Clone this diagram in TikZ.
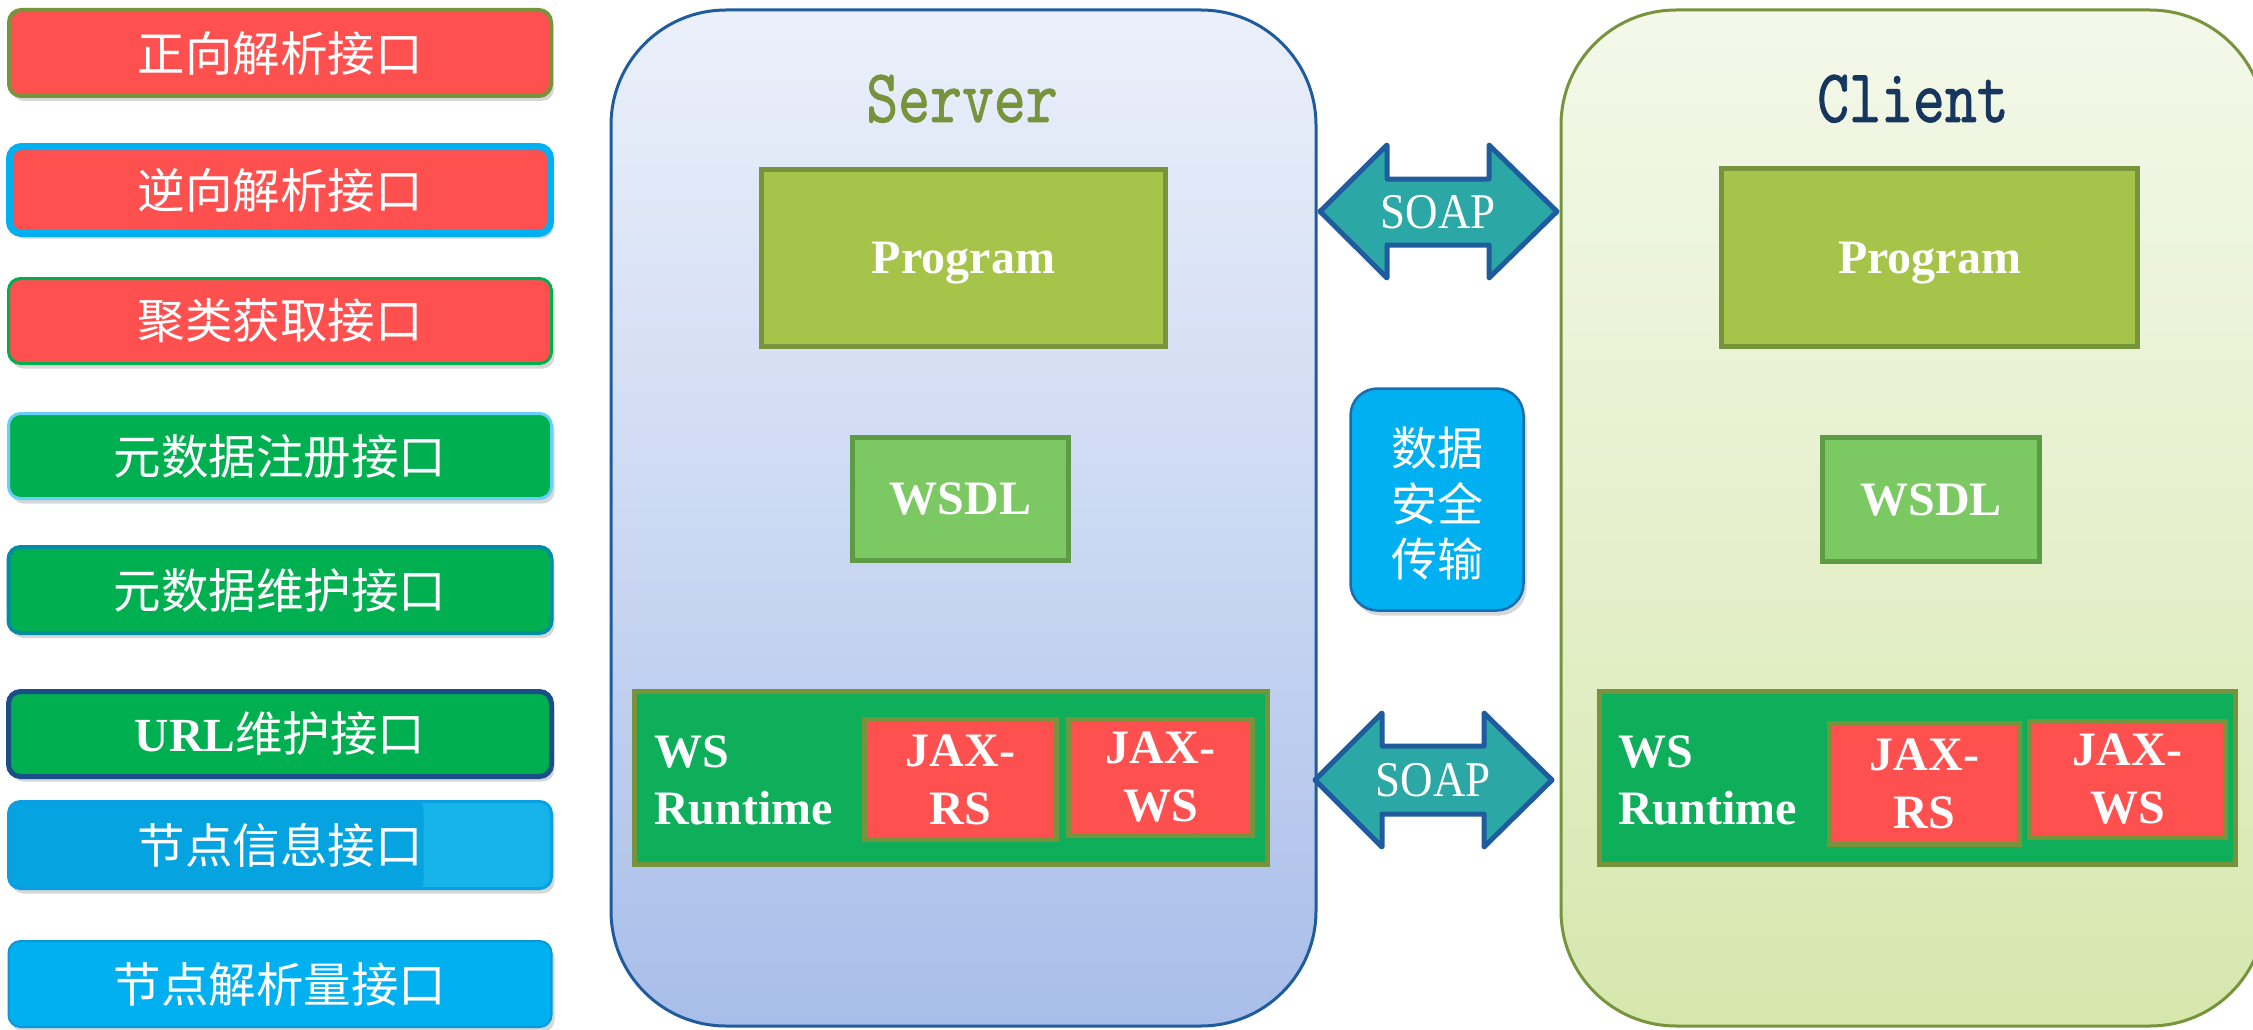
\documentclass[tikz,border=0pt]{standalone}
\usepackage{fontspec}
\setmainfont{Liberation Serif}
\newfontfamily\cjk{Noto Sans CJK SC}
\newfontfamily\titlefont[FakeStretch=0.8,FakeBold=1]{lmmono10-regular.otf}
\newfontfamily\soapfont[FakeStretch=0.9]{Liberation Serif}
\usetikzlibrary{shadows}
\definecolor{cred}{HTML}{FF5050}
\definecolor{cgreen}{HTML}{00B050}
\definecolor{cblue}{HTML}{00B0F0}
\definecolor{olive}{HTML}{77933C}
\definecolor{navy}{HTML}{1F5C9E}
\definecolor{progfill}{HTML}{A6C34A}
\definecolor{wsdlfill}{HTML}{7CC963}
\definecolor{wsdlline}{HTML}{5E9B45}
\definecolor{wsrfill}{HTML}{0FAE5B}
\definecolor{soapfill}{HTML}{2BA8A5}
\definecolor{clienttxt}{HTML}{17365D}
\definecolor{srvtop}{HTML}{EBF0FA}
\definecolor{srvmid}{HTML}{CCD9F3}
\definecolor{srvbot}{HTML}{A8BDE9}
\definecolor{clitop}{HTML}{F4F8EA}
\definecolor{climid}{HTML}{E6F0CD}
\definecolor{clibot}{HTML}{D6E7AD}
\definecolor{nodeinfo}{HTML}{16B3E9}
\definecolor{nodeinfodark}{HTML}{05A3DF}
\begin{document}
\begin{tikzpicture}[x=1pt,y=-1pt,
  lbox/.style={rounded corners=12pt, minimum width=543pt, inner sep=0pt,
    text=white, font=\cjk\fontsize{47.5}{50}\selectfont,
    drop shadow={shadow xshift=3pt, shadow yshift=-5pt, opacity=0.22, fill=black!70}},
  panel/.style={rounded corners=115pt, line width=3pt},
  title/.style={anchor=base, inner sep=0pt, font=\titlefont\fontsize{76}{80}\selectfont},
  sbox/.style={inner sep=0pt, text=white, line width=5pt, align=center,
    font=\bfseries\fontsize{48}{58}\selectfont},
  progbox/.style={sbox, fill=progfill, draw=olive, text depth=0pt},
  wsdlbox/.style={sbox, fill=wsdlfill, draw=wsdlline},
  wsrbox/.style={sbox, fill=wsrfill, draw=olive},
  jaxbox/.style={sbox, fill=cred, draw=olive},
  wsrlabel/.style={anchor=west, inner sep=0pt, text=white, align=left,
    font=\bfseries\fontsize{48}{57}\selectfont},
  soaparrow/.style={fill=soapfill, draw=navy, line width=5pt, line join=round},
  soaplabel/.style={inner sep=0pt, text=white, font=\soapfont\fontsize{50}{52}\selectfont},
  securebox/.style={rounded corners=27pt, fill=cblue, draw=navy!80!cblue, line width=2.5pt,
    inner sep=0pt, text=white, font=\cjk\fontsize{46}{55.5}\selectfont,
    drop shadow={shadow xshift=3pt, shadow yshift=-5pt, opacity=0.22, fill=black!70}}
]
\clip (0,0) rectangle (2253,1030);
\fill[white] (0,0) rectangle (2253,1030);

% ---- left interface list ----
\node[lbox, fill=cred, draw=olive, line width=4pt, minimum width=542pt, minimum height=86pt] (i1) at (280,53) {正向解析接口};
\node[lbox, fill=cred, draw=cblue, line width=7pt, minimum width=541pt, minimum height=87pt] (i2) at (280,190) {逆向解析接口};
\node[lbox, fill=cred, draw=cgreen, line width=3pt, minimum height=85pt] (i3) at (280,321) {聚类获取接口};
\node[lbox, fill=cgreen, draw=cblue!60!white, line width=3pt, minimum height=85pt] (i4) at (280,456) {元数据注册接口};
\node[lbox, fill=cgreen, draw=teal!70!cblue, line width=4pt, minimum height=86pt] (i5) at (280,590) {元数据维护接口};
\node[lbox, fill=cgreen, draw=navy!85!black, line width=5pt, minimum height=85pt] (i6) at (280,734) {{\bfseries\rmfamily URL}维护接口};
\node[lbox, fill=nodeinfo, draw=cyan!60!cblue, line width=3pt, minimum height=87pt,
  path picture={\fill[nodeinfodark, rounded corners=12pt]
    ([xshift=-20pt,yshift=-4pt]path picture bounding box.south west) rectangle
    ([xshift=-128pt,yshift=4pt]path picture bounding box.north east);}] (i7) at (280,845) {节点信息接口};
\node[lbox, fill=cblue, draw=cblue!70!navy, line width=2pt, minimum height=86pt] (i8) at (280,984) {节点解析量接口};

% ---- server panel ----
\draw[panel, draw=navy, top color=srvtop, bottom color=srvbot, middle color=srvmid] (611,10) rectangle (1316,1026);
\node[title, text=olive] (srvtitle) at (962,122) {Server};
\node[progbox, minimum width=404pt, minimum height=177pt] (sprog) at (963.5,258) {Program};
\node[wsdlbox, minimum width=216pt, minimum height=123pt] (swsdl) at (960.5,499) {WSDL};
\node[wsrbox, minimum width=633pt, minimum height=173pt] (swsr) at (951,778) {};
\node[wsrlabel] (swsrl) at (654,780) {WS\\Runtime};
\node[jaxbox, minimum width=192pt, minimum height=120pt] (sjrs) at (960.5,779.5) {JAX-\\RS};
\node[jaxbox, minimum width=184pt, minimum height=116pt] (sjws) at (1160.5,777.5) {JAX-\\WS};

% ---- client panel ----
\draw[panel, draw=olive, top color=clitop, bottom color=clibot, middle color=climid] (1561,10) rectangle (2265,1026);
\node[title, text=clienttxt] (clititle) at (1913,122) {Client};
\node[progbox, minimum width=416pt, minimum height=178pt] (cprog) at (1929.5,257.5) {Program};
\node[wsdlbox, minimum width=217pt, minimum height=124pt] (cwsdl) at (1931,499.5) {WSDL};
\node[wsrbox, minimum width=636pt, minimum height=173pt] (cwsr) at (1917.5,778) {};
\node[wsrlabel] (cwsrl) at (1618,780) {WS\\Runtime};
\node[jaxbox, minimum width=190pt, minimum height=121pt] (cjrs) at (1924.5,784) {JAX-\\RS};
\node[jaxbox, minimum width=196pt, minimum height=116pt] (cjws) at (2127.5,779.5) {JAX-\\WS};

% ---- SOAP block arrows ----
\draw[soaparrow] (1320,211.5) -- (1387,145) -- (1387,179) -- (1489,179) -- (1489,145)
  -- (1557,211.5) -- (1489,278) -- (1489,245) -- (1387,245) -- (1387,278) -- cycle;
\node[soaplabel] (soap1) at (1438,212) {SOAP};
\draw[soaparrow] (1315,780) -- (1382,713) -- (1382,746) -- (1484,746) -- (1484,713)
  -- (1552,780) -- (1484,847) -- (1484,814) -- (1382,814) -- (1382,847) -- cycle;
\node[soaplabel] (soap2) at (1433,780) {SOAP};

% ---- secure transfer box ----
\node[securebox, minimum width=173pt, minimum height=222pt] (secure) at (1437,499.5)
  {\raisebox{-77pt}[0pt][0pt]{\begin{tabular}[b]{@{}c@{}}数据\\安全\\传输\end{tabular}}};
\end{tikzpicture}
\end{document}
